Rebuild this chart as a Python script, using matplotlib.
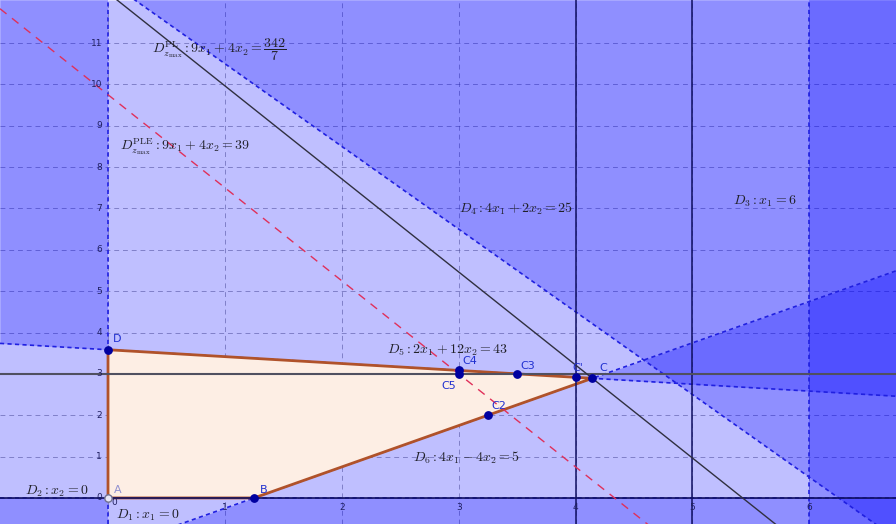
import numpy as np
import matplotlib
matplotlib.use("Agg")
import matplotlib.pyplot as plt

plt.rcParams['mathtext.fontset'] = 'cm'

# constraints a*x1 + b*x2 = c ; side=+1 shades a*x1+b*x2 > c, side=-1 shades < c
con_a = [1, 0, 1, 4, 2, 4]
con_b = [0, 1, 0, 2, 12, -4]
con_c = [0, 0, 6, 25, 43, 5]
con_side = [-1, -1, 1, 1, 1, 1]

# objective 9*x1 + 4*x2 = z
obj_a, obj_b = 9, 4
z_pl = 342 / 7
z_ple = 39

# cutting lines
cut_x = [4, 5]
cut_y = [3]

# feasible polygon
poly_names = ["A", "B", "C", "D"]
poly_x = [0, 1.25, 58 / 14, 0]
poly_y = [0, 0, 58 / 14 - 1.25, 43 / 12]

# extra points
pt_names = ["C'", "C3", "C4", "C5", "C2"]
pt_x = [4, 3.5, 3, 3, 3.25]
pt_y = [35 / 12, 3, 37 / 12, 3, 2]

x_ticks = [0, 1, 2, 3, 4, 5, 6]
y_ticks = [0, 1, 2, 3, 4, 5, 6, 7, 8, 9, 10, 11]

x0, x1 = -0.924, 6.741
y0, y1 = -0.63, 12.04

fig = plt.figure(figsize=(8.96, 5.24), dpi=100)
ax = fig.add_axes([0, 0, 1, 1])
ax.set_xlim(x0, x1)
ax.set_ylim(y0, y1)
ax.axis('off')
fig.patch.set_facecolor('white')

xs = np.linspace(x0, x1, 400)
blue = (0, 0, 1)

# half-plane shading and boundary lines
for a, b, c, s in zip(con_a, con_b, con_c, con_side):
    if b == 0:
        xv = c / a
        if s > 0:
            ax.axvspan(xv, x1, color=blue, alpha=0.25, lw=0)
        else:
            ax.axvspan(x0, xv, color=blue, alpha=0.25, lw=0)
        ax.axvline(xv, color='#2020e0', lw=1.2, ls=(0, (2.5, 2)))
    else:
        yl = (c - a * xs) / b
        above = (s > 0) == (b > 0)
        if above:
            ax.fill_between(xs, yl, y1, color=blue, alpha=0.25, lw=0)
        else:
            ax.fill_between(xs, y0, yl, color=blue, alpha=0.25, lw=0)
        ax.plot(xs, yl, color='#2020e0', lw=1.2, ls=(0, (2.5, 2)))

# grid
grid_kw = dict(color='#58586c', alpha=0.5, lw=0.7, ls=(0, (5, 4)), zorder=0.5)
for gx in x_ticks:
    ax.axvline(gx, **grid_kw)
for gy in y_ticks:
    ax.axhline(gy, **grid_kw)

# feasible region
ax.fill(poly_x, poly_y, facecolor='#fdeee4', edgecolor='none', zorder=2)
ax.plot(poly_x + poly_x[:1], poly_y + poly_y[:1], color='#b0522a', lw=2, zorder=3)

# axis and cuts
ax.axhline(0, color='#101060', lw=1.2, zorder=3)
for cx in cut_x:
    ax.axvline(cx, color='#101060', lw=1.1, zorder=3)
for cy in cut_y:
    ax.axhline(cy, color='#505060', lw=1.5, zorder=3)

# objective lines
ax.plot(xs, (z_pl - obj_a * xs) / obj_b, color='#303040', lw=1.0, zorder=3)
ax.plot(xs, (z_ple - obj_a * xs) / obj_b, color='#e0305a', lw=1.0,
        ls=(0, (6, 5)), zorder=3)

# tick labels
for tx in x_ticks:
    ax.text(tx + (0.05 if tx == 0 else 0), -0.12 if tx == 0 else -0.22,
            str(tx), fontsize=6.5, color='#202060', ha='center', va='center',
            zorder=4)
for ty in y_ticks:
    ax.text(-0.05, ty, str(ty), fontsize=6.5, color='#202060',
            ha='right', va='center', zorder=4)

# points
ax.scatter(poly_x[1:], poly_y[1:], s=28, color='#0000a0', zorder=5)
ax.scatter(pt_x, pt_y, s=28, color='#0000a0', zorder=5)
ax.scatter(poly_x[:1], poly_y[:1], s=28, facecolor='#e8e8f8',
           edgecolor='#707090', zorder=5)

pt_color = '#2030d0'
lab_off = {"A": (0.05, 0.2), "B": (0.05, 0.2), "C": (0.06, 0.25),
           "D": (0.04, 0.25), "C'": (-0.03, 0.22), "C3": (0.03, 0.2),
           "C4": (0.03, 0.22), "C5": (-0.15, -0.3), "C2": (0.03, 0.22)}
for n, px, py in zip(poly_names, poly_x, poly_y):
    dx, dy = lab_off[n]
    ax.text(px + dx, py + dy, n, fontsize=8,
            color='#9090d0' if n == "A" else pt_color, va='center', zorder=6)
for n, px, py in zip(pt_names, pt_x, pt_y):
    dx, dy = lab_off[n]
    ax.text(px + dx, py + dy, n, fontsize=8, color=pt_color,
            va='center', zorder=6)

# line equations
tc = '#202028'
fs = 10
ax.text(0.376, 10.83, r'$D_{z_{\max}}^{\mathrm{PL}}: 9x_1 + 4x_2 = \dfrac{342}{7}$',
        fontsize=fs, color=tc, va='center', zorder=6)
ax.text(0.103, 8.49, r'$D_{z_{\max}}^{\mathrm{PLE}}: 9x_1 + 4x_2 = 39$',
        fontsize=fs, color=tc, va='center', zorder=6)
ax.text(3.0, 6.99, r'$D_4 : 4x_1 + 2x_2 = 25$', fontsize=fs, color=tc,
        va='center', zorder=6)
ax.text(5.35, 7.18, r'$D_3 : x_1 = 6$', fontsize=fs, color=tc,
        va='center', zorder=6)
ax.text(2.39, 3.58, r'$D_5 : 2x_1 + 12x_2 = 43$', fontsize=fs, color=tc,
        va='center', zorder=6)
ax.text(2.61, 0.97, r'$D_6 : 4x_1 - 4x_2 = 5$', fontsize=fs, color=tc,
        va='center', zorder=6)
ax.text(-0.71, 0.17, r'$D_2 : x_2 = 0$', fontsize=fs, color=tc,
        va='center', zorder=6)
ax.text(0.07, -0.41, r'$D_1 : x_1 = 0$', fontsize=fs, color=tc,
        va='center', zorder=6)

fig.savefig('out.png', dpi=100)
